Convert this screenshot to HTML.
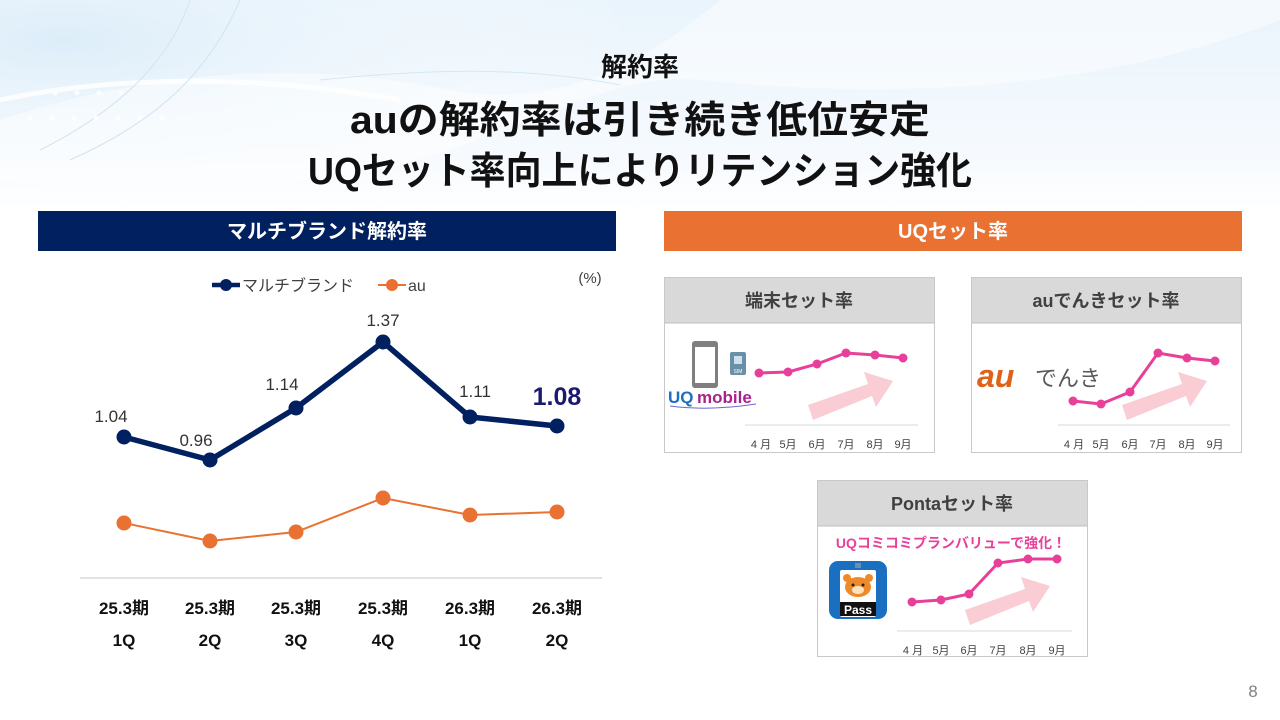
<!DOCTYPE html>
<html><head><meta charset="utf-8"><style>
html,body{margin:0;padding:0;background:#fff;}
svg{display:block;}
text{font-family:"Liberation Sans","Noto Sans CJK JP",sans-serif;}
</style></head><body>
<svg width="1280" height="720" viewBox="0 0 1280 720" xmlns="http://www.w3.org/2000/svg">
<defs>
<linearGradient id="bgTop" x1="0" y1="0" x2="0" y2="1">
<stop offset="0" stop-color="#e9f4fc"/><stop offset="0.75" stop-color="#f6fafe"/><stop offset="1" stop-color="#ffffff"/>
</linearGradient>
<radialGradient id="bgL" cx="0.1" cy="0.2" r="0.9">
<stop offset="0" stop-color="#dcedf9"/><stop offset="1" stop-color="#ffffff" stop-opacity="0"/>
</radialGradient>
</defs>
<rect width="1280" height="720" fill="#fff"/>
<rect x="0" y="0" width="1280" height="210" fill="url(#bgTop)"/>
<rect x="0" y="0" width="650" height="200" fill="url(#bgL)"/>
<path d="M0 120 C150 70 300 60 450 90 C560 110 650 60 720 0 H1280 V20 C1100 90 900 100 700 80 C600 70 500 150 350 175 C200 195 80 190 0 180 Z" fill="#ffffff" opacity="0.45"/>
<path d="M0 100 C120 75 260 75 400 100" stroke="#ffffff" stroke-width="5" fill="none" opacity="0.8"/>
<path d="M190 0 C170 60 120 110 40 150" stroke="#d0e4f3" stroke-width="1" fill="none"/>
<path d="M240 0 C210 70 160 120 70 160" stroke="#d0e4f3" stroke-width="1" fill="none"/>
<path d="M320 80 C420 70 520 65 620 85" stroke="#d5e7f4" stroke-width="1" fill="none"/>
<g fill="#ffffff" opacity="0.9">
<circle cx="55" cy="93" r="2.5"/><circle cx="77" cy="93" r="2.5"/><circle cx="99" cy="93" r="2.5"/><circle cx="121" cy="93" r="2.5"/>
<circle cx="30" cy="118" r="2.5"/><circle cx="52" cy="118" r="2.5"/><circle cx="74" cy="118" r="2.5"/><circle cx="96" cy="118" r="2.5"/><circle cx="118" cy="118" r="2.5"/><circle cx="140" cy="118" r="2.5"/><circle cx="162" cy="118" r="2.5"/>
</g>

<!-- titles -->
<text x="640" y="76" font-size="26" font-weight="bold" text-anchor="middle" fill="#111">解約率</text>
<text x="350" y="133" font-size="38" font-weight="bold" fill="#111" textLength="580" lengthAdjust="spacingAndGlyphs">auの解約率は引き続き低位安定</text>
<text x="308" y="184" font-size="38" font-weight="bold" fill="#111" textLength="664" lengthAdjust="spacingAndGlyphs">UQセット率向上によりリテンション強化</text>

<!-- left header -->
<rect x="38" y="211" width="578" height="40" fill="#002060"/>
<text x="327" y="238" font-size="20" font-weight="bold" text-anchor="middle" fill="#fff">マルチブランド解約率</text>

<!-- right header -->
<rect x="664" y="211" width="578" height="40" fill="#E97132"/>
<text x="953" y="238" font-size="20" font-weight="bold" text-anchor="middle" fill="#fff">UQセット率</text>

<!-- legend -->
<line x1="212" y1="285" x2="240" y2="285" stroke="#002060" stroke-width="4.5"/>
<circle cx="226" cy="285" r="6" fill="#002060"/>
<text x="242" y="291" font-size="16" fill="#404040">マルチブランド</text>
<line x1="378" y1="285" x2="406" y2="285" stroke="#E97132" stroke-width="2"/>
<circle cx="392" cy="285" r="6" fill="#E97132"/>
<text x="408" y="291" font-size="16" fill="#404040">au</text>
<text x="590" y="283" font-size="15" text-anchor="middle" fill="#404040">(%)</text>

<!-- multi-brand series -->
<polyline points="124,437 210,460 296,408 383,342 470,417 557,426" fill="none" stroke="#002060" stroke-width="5.5" stroke-linejoin="round"/>
<g fill="#002060">
<circle cx="124" cy="437" r="7.5"/><circle cx="210" cy="460" r="7.5"/><circle cx="296" cy="408" r="7.5"/><circle cx="383" cy="342" r="7.5"/><circle cx="470" cy="417" r="7.5"/><circle cx="557" cy="426" r="7.5"/>
</g>
<g font-size="17" fill="#333" text-anchor="middle">
<text x="111" y="422">1.04</text>
<text x="196" y="446">0.96</text>
<text x="282" y="390">1.14</text>
<text x="383" y="326">1.37</text>
<text x="475" y="397">1.11</text>
</g>
<text x="557" y="405" font-size="25" font-weight="bold" text-anchor="middle" fill="#1c1a6e">1.08</text>

<!-- au series -->
<polyline points="124,523 210,541 296,532 383,498 470,515 557,512" fill="none" stroke="#E97132" stroke-width="2"/>
<g fill="#E97132">
<circle cx="124" cy="523" r="7.5"/><circle cx="210" cy="541" r="7.5"/><circle cx="296" cy="532" r="7.5"/><circle cx="383" cy="498" r="7.5"/><circle cx="470" cy="515" r="7.5"/><circle cx="557" cy="512" r="7.5"/>
</g>

<!-- axis -->
<line x1="80" y1="578" x2="602" y2="578" stroke="#d9d9d9" stroke-width="1.5"/>
<g font-size="17" font-weight="bold" fill="#111" text-anchor="middle">
<text x="124" y="614">25.3期</text><text x="210" y="614">25.3期</text><text x="296" y="614">25.3期</text><text x="383" y="614">25.3期</text><text x="470" y="614">26.3期</text><text x="557" y="614">26.3期</text>
<text x="124" y="646">1Q</text><text x="210" y="646">2Q</text><text x="296" y="646">3Q</text><text x="383" y="646">4Q</text><text x="470" y="646">1Q</text><text x="557" y="646">2Q</text>
</g>

<!-- card 1 -->
<rect x="664.5" y="277.5" width="270" height="175" fill="#fff" stroke="#c8c8c8"/>
<rect x="665" y="278" width="269" height="45" fill="#d9d9d9"/>
<line x1="665" y1="323" x2="934" y2="323" stroke="#bfbfbf"/>
<text x="799" y="307" font-size="18" font-weight="bold" text-anchor="middle" fill="#404040">端末セット率</text>
<rect x="692" y="341" width="26" height="47" rx="3" fill="#7f7f7f"/>
<rect x="695" y="347" width="20" height="36" fill="#fff"/>
<rect x="730" y="352" width="16" height="23" rx="2" fill="#6a8fa8"/>
<rect x="734" y="356" width="8" height="8" fill="#cfe0ea"/>
<text x="738" y="373" font-size="5" text-anchor="middle" fill="#fff">SIM</text>
<text x="668" y="403" font-size="17" font-weight="bold" fill="#1c6fc2">UQ</text>
<text x="697" y="403" font-size="17" font-weight="bold" fill="#a8228e">mobile</text>
<path d="M670 406 C700 410 730 408 756 404" stroke="#6a6ad0" stroke-width="1" fill="none"/>
<polygon points="808,405 868,384 864,372 893,381 876,407 872,396 813,420" fill="#f9cdd3"/>
<line x1="745" y1="425" x2="918" y2="425" stroke="#e6e6e6" stroke-width="1.5"/>
<polyline points="759,373 788,372 817,364 846,353 875,355 903,358" fill="none" stroke="#E8409A" stroke-width="3"/>
<g fill="#E8409A"><circle cx="759" cy="373" r="4.5"/><circle cx="788" cy="372" r="4.5"/><circle cx="817" cy="364" r="4.5"/><circle cx="846" cy="353" r="4.5"/><circle cx="875" cy="355" r="4.5"/><circle cx="903" cy="358" r="4.5"/></g>
<g font-size="11" fill="#404040" text-anchor="middle">
<text x="761" y="448">4 月</text><text x="788" y="448">5月</text><text x="817" y="448">6月</text><text x="846" y="448">7月</text><text x="875" y="448">8月</text><text x="903" y="448">9月</text>
</g>

<!-- card 2 -->
<rect x="971.5" y="277.5" width="270" height="175" fill="#fff" stroke="#c8c8c8"/>
<rect x="972" y="278" width="269" height="45" fill="#d9d9d9"/>
<line x1="972" y1="323" x2="1241" y2="323" stroke="#bfbfbf"/>
<text x="1106" y="307" font-size="18" font-weight="bold" text-anchor="middle" fill="#404040">auでんきセット率</text>
<text x="977" y="387" font-size="32" font-weight="bold" font-style="italic" fill="#e0621a" font-family="Liberation Serif, serif">au</text>
<text x="1035" y="386" font-size="22" fill="#595959">でんき</text>
<polygon points="1122,405 1182,384 1178,372 1207,381 1190,407 1186,396 1127,420" fill="#f9cdd3"/>
<line x1="1058" y1="425" x2="1230" y2="425" stroke="#e6e6e6" stroke-width="1.5"/>
<polyline points="1073,401 1101,404 1130,392 1158,353 1187,358 1215,361" fill="none" stroke="#E8409A" stroke-width="3"/>
<g fill="#E8409A"><circle cx="1073" cy="401" r="4.5"/><circle cx="1101" cy="404" r="4.5"/><circle cx="1130" cy="392" r="4.5"/><circle cx="1158" cy="353" r="4.5"/><circle cx="1187" cy="358" r="4.5"/><circle cx="1215" cy="361" r="4.5"/></g>
<g font-size="11" fill="#404040" text-anchor="middle">
<text x="1074" y="448">4 月</text><text x="1101" y="448">5月</text><text x="1130" y="448">6月</text><text x="1158" y="448">7月</text><text x="1187" y="448">8月</text><text x="1215" y="448">9月</text>
</g>

<!-- card 3 -->
<rect x="817.5" y="480.5" width="270" height="176" fill="#fff" stroke="#c8c8c8"/>
<rect x="818" y="481" width="269" height="45" fill="#d9d9d9"/>
<line x1="818" y1="526" x2="1087" y2="526" stroke="#bfbfbf"/>
<text x="952" y="510" font-size="18" font-weight="bold" text-anchor="middle" fill="#404040">Pontaセット率</text>
<text x="951" y="548" font-size="14" font-weight="bold" text-anchor="middle" fill="#E8409A">UQコミコミプランバリューで強化！</text>
<rect x="829" y="561" width="58" height="58" rx="9" fill="#1b6fc0"/>
<rect x="840" y="570" width="36" height="47" rx="2" fill="#fff"/>
<rect x="855" y="563" width="6" height="5" fill="#6a8fa8"/>
<ellipse cx="858" cy="587" rx="13" ry="10" fill="#ef8a2a"/>
<circle cx="847" cy="578" r="4" fill="#ef8a2a"/><circle cx="869" cy="578" r="4" fill="#ef8a2a"/>
<ellipse cx="858" cy="590" rx="6" ry="4" fill="#fde2c0"/>
<circle cx="853" cy="585" r="1.5" fill="#222"/><circle cx="863" cy="585" r="1.5" fill="#222"/>
<rect x="840" y="602" width="36" height="14" fill="#111"/>
<text x="858" y="614" font-size="12" font-weight="bold" text-anchor="middle" fill="#fff">Pass</text>
<polygon points="965,610 1025,589 1021,577 1050,586 1033,612 1029,601 970,625" fill="#f9cdd3"/>
<line x1="897" y1="631" x2="1072" y2="631" stroke="#e6e6e6" stroke-width="1.5"/>
<polyline points="912,602 941,600 969,594 998,563 1028,559 1057,559" fill="none" stroke="#E8409A" stroke-width="3"/>
<g fill="#E8409A"><circle cx="912" cy="602" r="4.5"/><circle cx="941" cy="600" r="4.5"/><circle cx="969" cy="594" r="4.5"/><circle cx="998" cy="563" r="4.5"/><circle cx="1028" cy="559" r="4.5"/><circle cx="1057" cy="559" r="4.5"/></g>
<g font-size="11" fill="#404040" text-anchor="middle">
<text x="913" y="654">4 月</text><text x="941" y="654">5月</text><text x="969" y="654">6月</text><text x="998" y="654">7月</text><text x="1028" y="654">8月</text><text x="1057" y="654">9月</text>
</g>

<!-- page number -->
<text x="1253" y="697" font-size="17" text-anchor="middle" fill="#7f7f7f">8</text>
</svg>
</body></html>
